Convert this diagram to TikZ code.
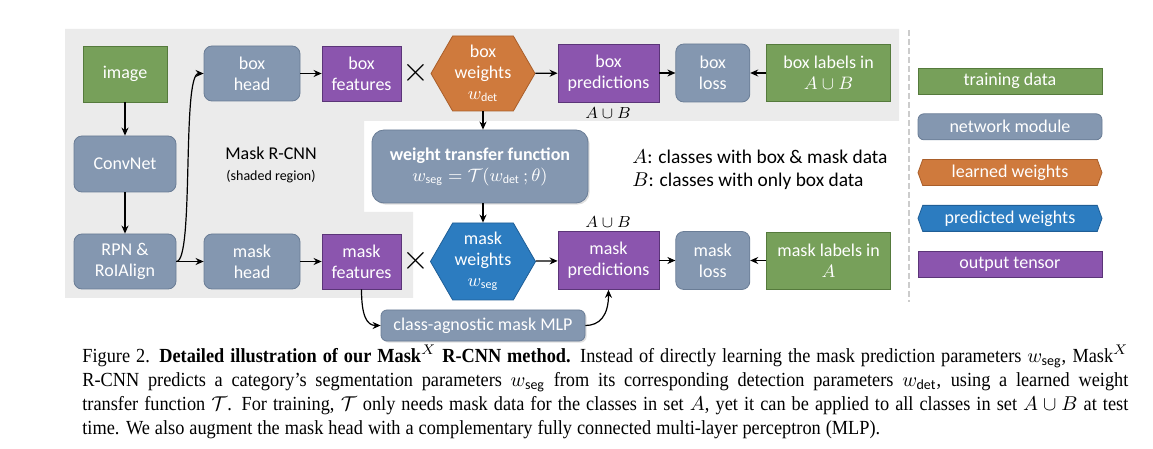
\documentclass[tikz,border=0pt]{standalone}
\usepackage{amsmath}
\usepackage{fontspec}
\setmainfont{Carlito}
\newfontfamily\capfont[FakeStretch=0.915]{Liberation Serif}
\usetikzlibrary{positioning,arrows.meta,shapes.symbols,shadows}
\definecolor{datafill}{HTML}{77A05A}
\definecolor{dataline}{HTML}{557A3C}
\definecolor{modfill}{HTML}{8497B0}
\definecolor{modline}{HTML}{6A7D96}
\definecolor{tenfill}{HTML}{8B55AE}
\definecolor{tenline}{HTML}{5B3578}
\definecolor{learnfill}{HTML}{CF7A3D}
\definecolor{learnline}{HTML}{A95E2A}
\definecolor{predfill}{HTML}{2C7CC0}
\definecolor{predline}{HTML}{1F5E96}
\definecolor{regiongray}{HTML}{EBEBEB}

\begin{document}
\begin{tikzpicture}[
  x=0.5pt, y=-0.5pt,
  node distance=9.5pt,
  every node/.style={align=center, inner sep=1pt, font=\fontsize{9}{10.5}\selectfont},
  data/.style={draw=dataline, fill=datafill, text=white},
  module/.style={draw=modline, fill=modfill, text=white, rounded corners=4pt},
  tensor/.style={draw=tenline, fill=tenfill, text=white},
  weights/.style={signal, signal to=east and west, signal pointer angle=120, text=white},
  learned/.style={weights, draw=learnline, fill=learnfill},
  predicted/.style={weights, draw=predline, fill=predfill},
  legend/.style={minimum width=92pt, minimum height=13pt},
  setlabel/.style={font=\fontsize{8}{9}\selectfont},
  arrow/.style={-{Stealth[length=4pt,width=3.5pt]}, line width=0.6pt}
]
\useasboundingbox (0,0) rectangle (1153,449);
\fill[regiongray] (65,29) -- (899,29) -- (899,121) -- (364,121) -- (364,212) -- (413,212) -- (413,298) -- (65,298) -- cycle;
\draw[gray!40, line width=0.8pt, dash pattern=on 3pt off 1.5pt] (909,30) -- (909,302);

\node (image) [data, minimum width=42pt, minimum height=28pt] at (125,74) {image};
\node (convnet) [module, minimum width=51pt, minimum height=28pt] at (125,164) {ConvNet};
\node (rpn) [module, minimum width=51pt, minimum height=27.5pt] at (125,261.5) {RPN \&\\RoIAlign};
\node (boxhead) [module, minimum width=48pt, minimum height=27.5pt] at (252,73.5) {box\\head};
\node (maskhead) [module, minimum width=48pt, minimum height=27.5pt] at (252,261.5) {mask\\head};
\node (boxfeat) [tensor, minimum width=39.5pt, minimum height=27.5pt] at (361.5,73.5) {box\\features};
\node (maskfeat) [tensor, minimum width=39.5pt, minimum height=27.5pt] at (361.5,261.5) {mask\\features};
\node (boxtimes) at (416,73) {\fontsize{16}{16}\selectfont$\times$};
\node (masktimes) at (416,261) {\fontsize{16}{16}\selectfont$\times$};
\node (boxw) [learned, minimum width=52pt, minimum height=37.5pt] at (483,73.5) {box\\weights\\$w_{\text{det}}$};
\node (maskw) [predicted, minimum width=52pt, minimum height=38.5pt] at (483,261.5) {mask\\weights\\$w_{\text{seg}}$};
\node (wtf) [module, rounded corners=6pt, minimum width=108pt, minimum height=36.5pt,
  drop shadow={opacity=0.25, shadow xshift=0.8pt, shadow yshift=-0.8pt}] at (480,166.5)
  {\textbf{weight transfer function}\\$w_{\text{seg}} = \mathcal{T}(w_{\text{det}}\,;\theta)$};
\node (mlp) [module, rounded corners=3pt, minimum width=102pt, minimum height=15.5pt,
  drop shadow={opacity=0.25, shadow xshift=0.8pt, shadow yshift=-0.8pt}] at (483,325.5) {class-agnostic mask MLP};
\node (boxpred) [tensor, minimum width=50.5pt, minimum height=29pt] at (608.5,73) {box\\predictions};
\node (boxloss) [module, minimum width=37pt, minimum height=29pt, right=8pt of boxpred] {box\\loss};
\node (boxlab) [data, minimum width=62pt, minimum height=28.5pt, right=8pt of boxloss] {box labels in\\$A\cup B$};
\node (maskpred) [tensor, minimum width=50.5pt, minimum height=29pt] at (608.5,260.5) {mask\\predictions};
\node (maskloss) [module, minimum width=37pt, minimum height=29pt, right=8pt of maskpred] {mask\\loss};
\node (masklab) [data, minimum width=62pt, minimum height=28.5pt, right=8pt of maskloss] {mask labels in\\$A$};
\node (boxset) [setlabel] at (608,113) {$A\cup B$};
\node (maskset) [setlabel] at (608,222) {$A\cup B$};
\node (rcnn) at (271,165) {Mask R-CNN\\[0pt]{\fontsize{7}{8}\selectfont(shaded region)}};
\node (setA) [anchor=west, font=\fontsize{9.7}{11}\selectfont] at (630,157) {$A$: classes with box \& mask data};
\node (setB) [anchor=west, font=\fontsize{9.7}{11}\selectfont] at (630,181) {$B$: classes with only box data};

\node (train) [data, legend] at (1010,81) {training data};
\node (net) [module, legend, rounded corners=3pt, below=of train] {network module};
\node (learn) [learned, legend, signal pointer angle=140, below=of net] {learned weights};
\node (pred) [predicted, legend, signal pointer angle=140, below=of learn] {predicted weights};
\node (out) [tensor, legend, below=of pred] {output tensor};

\draw[arrow] (image) -- (convnet);
\draw[arrow] (convnet) -- (rpn);
\draw[arrow] (rpn) -- (maskhead);
\draw[arrow] (rpn.east) .. controls +(18,0) and +(-22,0) .. (boxhead.west);
\draw[arrow] (boxhead) -- (boxfeat);
\draw[arrow] (maskhead) -- (maskfeat);
\draw[arrow] (boxw) -- (boxpred);
\draw[arrow] (maskw) -- (maskpred);
\draw[arrow] (boxpred) -- (boxloss);
\draw[arrow] (boxlab) -- (boxloss);
\draw[arrow] (maskpred) -- (maskloss);
\draw[arrow] (masklab) -- (maskloss);
\draw[arrow] (boxw.south) -- (boxw.south |- wtf.north);
\draw[arrow] (boxw.south |- wtf.south) -- (maskw.north);
\draw[arrow] (maskfeat.south) .. controls +(0,26) and +(-14,0) .. (mlp.west);
\draw[arrow] (mlp.east) .. controls +(14,0) and +(0,26) .. (maskpred.south);

\node (caption) [anchor=north west, inner sep=0pt, text width=523pt, align=justify,
  font=\capfont\fontsize{10}{12}\selectfont] at (82,345)
  {\spaceskip=0.25em plus 0.2em minus 0.1em
  Figure 2. \textbf{Detailed illustration of our Mask$^X$ R-CNN method.} Instead of directly learning the mask prediction parameters $w_{\mathrm{seg}}$, Mask$^X$\linebreak
  R-CNN predicts a category’s segmentation parameters $w_{\mathrm{seg}}$ from its corresponding detection parameters $w_{\mathrm{det}}$, using a learned weight\linebreak
  transfer function $\mathcal{T}$. For training, $\mathcal{T}$ only needs mask data for the classes in set $A$, yet it can be applied to all classes in set $A\cup B$ at test\linebreak
  time. We also augment the mask head with a complementary fully connected multi-layer perceptron (MLP).};
\end{tikzpicture}
\end{document}
